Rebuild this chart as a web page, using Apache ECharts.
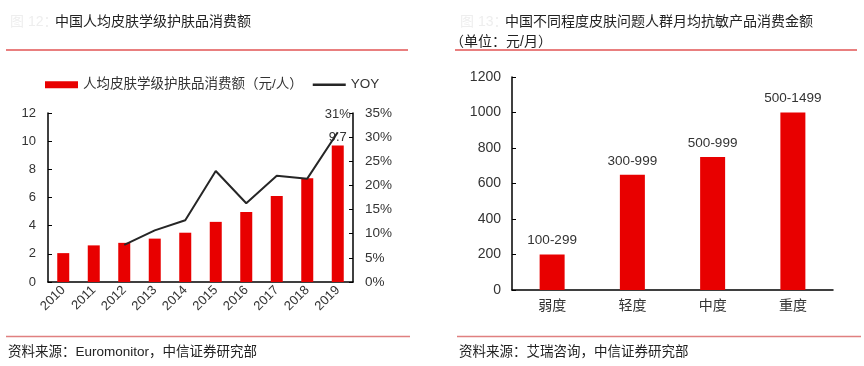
<!DOCTYPE html>
<html>
<head>
<meta charset="utf-8">
<script src="https://cdn.jsdelivr.net/npm/echarts@6/dist/echarts.min.js"></script>
<style>
html,body{margin:0;padding:0;background:#fff;}
#c{width:864px;height:366px;}
</style>
</head>
<body>
<div id="c"></div>
<script>
// Left chart data
const years = ['2010','2011','2012','2013','2014','2015','2016','2017','2018','2019'];
const spend = [2.05, 2.6, 2.78, 3.08, 3.5, 4.27, 4.97, 6.1, 7.37, 9.7];
const yoy = [null, null, 7.7, 10.7, 12.8, 23.0, 16.3, 22.0, 21.4, 31.0];
const leftTicks = [0, 2, 4, 6, 8, 10, 12];
// Right chart data
const levels = ['弱度','轻度','中度','重度'];
const amount = [200, 650, 750, 1000];
const ranges = ['100-299','300-999','500-999','500-1499'];

const FONT = '"Liberation Sans", Arial, "Noto Sans CJK SC", sans-serif';
const TXT = '#333';
const RED = '#E80000';

const chart = echarts.init(document.getElementById('c'), null, {renderer:'canvas'});

const spendData = spend.map((v,i) => i === spend.length-1 ?
  {value:v, label:{show:true, position:'top', distance:1, formatter:'{c}', fontSize:13, color:TXT, fontFamily:FONT}} : v);
const yoyData = yoy.map((v,i) => i === yoy.length-1 ?
  {value:v, label:{show:true, position:'top', distance:11, formatter: p => Math.round(p.value)+'%', fontSize:13, color:TXT, fontFamily:FONT}} : v);
const amountData = amount.map((v,i) => ({value:v, label:{show:true, position:'top', distance:7, formatter: ranges[i], fontSize:13.5, color:TXT, fontFamily:FONT}}));

const axisLine = {show:true, lineStyle:{color:'#000', width:1.5}};
const plain = v => String(v);

chart.setOption({
  animation:false,
  textStyle:{fontFamily:FONT},
  legend:{
    left:40, top:73, itemWidth:33, itemHeight:7, itemGap:10,
    textStyle:{fontSize:13.5, color:TXT, fontFamily:FONT},
    data:[{name:'人均皮肤学级护肤品消费额（元/人）', icon:'rect'},
          {name:'YOY', icon:'path://M0,0H33V2.6H0Z'}]
  },
  grid:[
    {left:48, top:113, width:305, height:169},
    {left:512, top:77, width:321, height:213}
  ],
  xAxis:[
    {type:'category', gridIndex:0, data:years, axisLine:axisLine, axisTick:{show:false},
     axisLabel:{rotate:45, margin:6, fontSize:13, color:TXT, fontFamily:FONT}},
    {type:'category', gridIndex:1, data:levels, axisLine:axisLine, axisTick:{show:false},
     axisLabel:{margin:9, fontSize:14, color:TXT, fontFamily:FONT}}
  ],
  yAxis:[
    {type:'value', gridIndex:0, min:0, max:12, interval:2, axisLine:axisLine,
     axisTick:{show:true, inside:true, length:4, lineStyle:{color:'#000'}}, splitLine:{show:false},
     axisLabel:{margin:12, fontSize:13, color:TXT, fontFamily:FONT, formatter:plain}},
    {type:'value', gridIndex:0, position:'right', min:0, max:35, interval:5, axisLine:axisLine,
     axisTick:{show:true, inside:true, length:4, lineStyle:{color:'#000'}}, splitLine:{show:false},
     axisLabel:{margin:12, fontSize:13.5, color:TXT, fontFamily:FONT, formatter:'{value}%'}},
    {type:'value', gridIndex:1, min:0, max:1200, interval:200, axisLine:axisLine,
     axisTick:{show:true, inside:true, length:4, lineStyle:{color:'#000'}}, splitLine:{show:false},
     axisLabel:{margin:11, fontSize:14, color:TXT, fontFamily:FONT, formatter:plain}}
  ],
  series:[
    {name:'人均皮肤学级护肤品消费额（元/人）', type:'bar', xAxisIndex:0, yAxisIndex:0, data:spendData,
     barWidth:12, itemStyle:{color:RED}, labelLayout:{hideOverlap:false}},
    {name:'YOY', type:'line', xAxisIndex:0, yAxisIndex:1, data:yoyData, symbol:'circle', symbolSize:0.01,
     showSymbol:true, lineStyle:{color:'#262626', width:2}, itemStyle:{color:'#262626'}, z:5,
     labelLayout:{hideOverlap:false}},
    {name:'amount', type:'bar', xAxisIndex:1, yAxisIndex:2, data:amountData,
     barWidth:25, itemStyle:{color:RED}}
  ],
  graphic:[
    {type:'text', left:10, top:15, style:{text:'图 12：', fontSize:14, fill:'#eeeeee', fontFamily:FONT}},
    {type:'text', left:55, top:15, style:{text:'中国人均皮肤学级护肤品消费额', fontSize:14, fill:'#222', fontFamily:FONT}},
    {type:'line', shape:{x1:6, y1:50, x2:408, y2:50}, style:{stroke:'#E25555', lineWidth:1.5}},
    {type:'text', left:460, top:15, style:{text:'图 13：', fontSize:14, fill:'#eeeeee', fontFamily:FONT}},
    {type:'text', left:505, top:15, style:{text:'中国不同程度皮肤问题人群月均抗敏产品消费金额', fontSize:14, fill:'#222', fontFamily:FONT}},
    {type:'text', left:450, top:35, style:{text:'（单位：元/月）', fontSize:14, fill:'#222', fontFamily:FONT}},
    {type:'line', shape:{x1:455, y1:50, x2:857, y2:50}, style:{stroke:'#E25555', lineWidth:1.5}},
    {type:'line', shape:{x1:6, y1:336.5, x2:410, y2:336.5}, style:{stroke:'#E08080', lineWidth:1.5}},
    {type:'line', shape:{x1:457, y1:336.5, x2:861, y2:336.5}, style:{stroke:'#E08080', lineWidth:1.5}},
    {type:'text', left:8, top:346, style:{text:'资料来源：Euromonitor，中信证券研究部', fontSize:13.5, fill:'#222', fontFamily:FONT}},
    {type:'text', left:459, top:346, style:{text:'资料来源：艾瑞咨询，中信证券研究部', fontSize:13.5, fill:'#222', fontFamily:FONT}}
  ]
});
</script>
</body>
</html>
